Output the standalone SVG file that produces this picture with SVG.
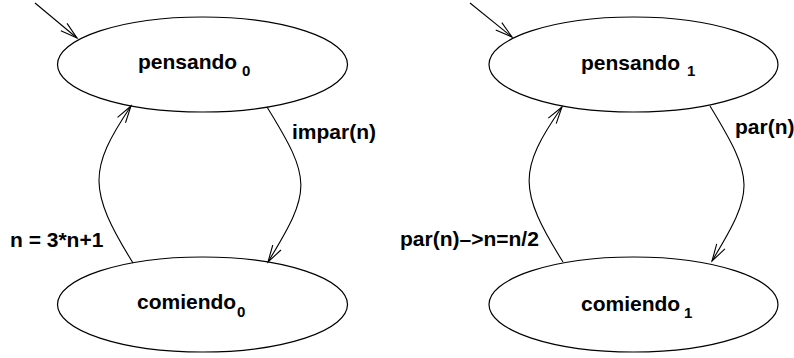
<svg xmlns="http://www.w3.org/2000/svg" width="794" height="358" viewBox="0 0 794 358">
<style>
.st{fill:#fff;stroke:#000;stroke-width:1.2}
.cn{fill:none;stroke:#000;stroke-width:1.1}
text{font-family:"Liberation Sans",Arial,Helvetica,sans-serif;font-weight:bold;font-size:21px;fill:#000}
.sub{font-size:15px}
</style>
<defs>
<marker id="ah" markerUnits="userSpaceOnUse" markerWidth="24" markerHeight="24" viewBox="-20 -12 24 24" refX="0" refY="0" orient="auto" overflow="visible">
<path d="M-17,-4.8 L0,0 L-17,4.8" fill="none" stroke="#000" stroke-width="1.1"/>
</marker>
</defs>
<g id="pensando0">
<ellipse class="st" cx="202.5" cy="64.5" rx="145" ry="47.5"/>
<text x="138" y="68.5">pensando<tspan class="sub" x="242" y="75.5">0</tspan></text>
</g>
<g id="comiendo0">
<ellipse class="st" cx="202.5" cy="304.5" rx="145" ry="47.5"/>
<text x="137" y="308.5">comiendo<tspan class="sub" x="237" y="316.5">0</tspan></text>
</g>
<g id="pensando1">
<ellipse class="st" cx="633.5" cy="64.5" rx="144.5" ry="47.5"/>
<text x="581" y="70">pensando<tspan class="sub" x="687" y="75.5">1</tspan></text>
</g>
<g id="comiendo1">
<ellipse class="st" cx="633.5" cy="304.5" rx="144.5" ry="47.5"/>
<text x="581" y="310.5">comiendo<tspan class="sub" x="684" y="318">1</tspan></text>
</g>
<g id="connectors">
<path class="cn" d="M35,3 L77,38" marker-end="url(#ah)"/>
<path class="cn" d="M470,3 L512,37" marker-end="url(#ah)"/>
<path class="cn" d="M267,107 C312,180 312,190 268,262" marker-end="url(#ah)"/>
<path class="cn" d="M133,263 C88,190 88,170 131,106" marker-end="url(#ah)"/>
<path class="cn" d="M710,106 C755,180 755,190 712,261" marker-end="url(#ah)"/>
<path class="cn" d="M563,262 C518,190 518,170 562,107" marker-end="url(#ah)"/>
</g>
<g id="labels">
<text x="292" y="138.5">impar(n)</text>
<text x="10" y="246.5">n = 3*n+1</text>
<text x="735" y="133.5">par(n)</text>
<text x="400" y="246">par(n)–&gt;n=n/2</text>
</g>
</svg>
